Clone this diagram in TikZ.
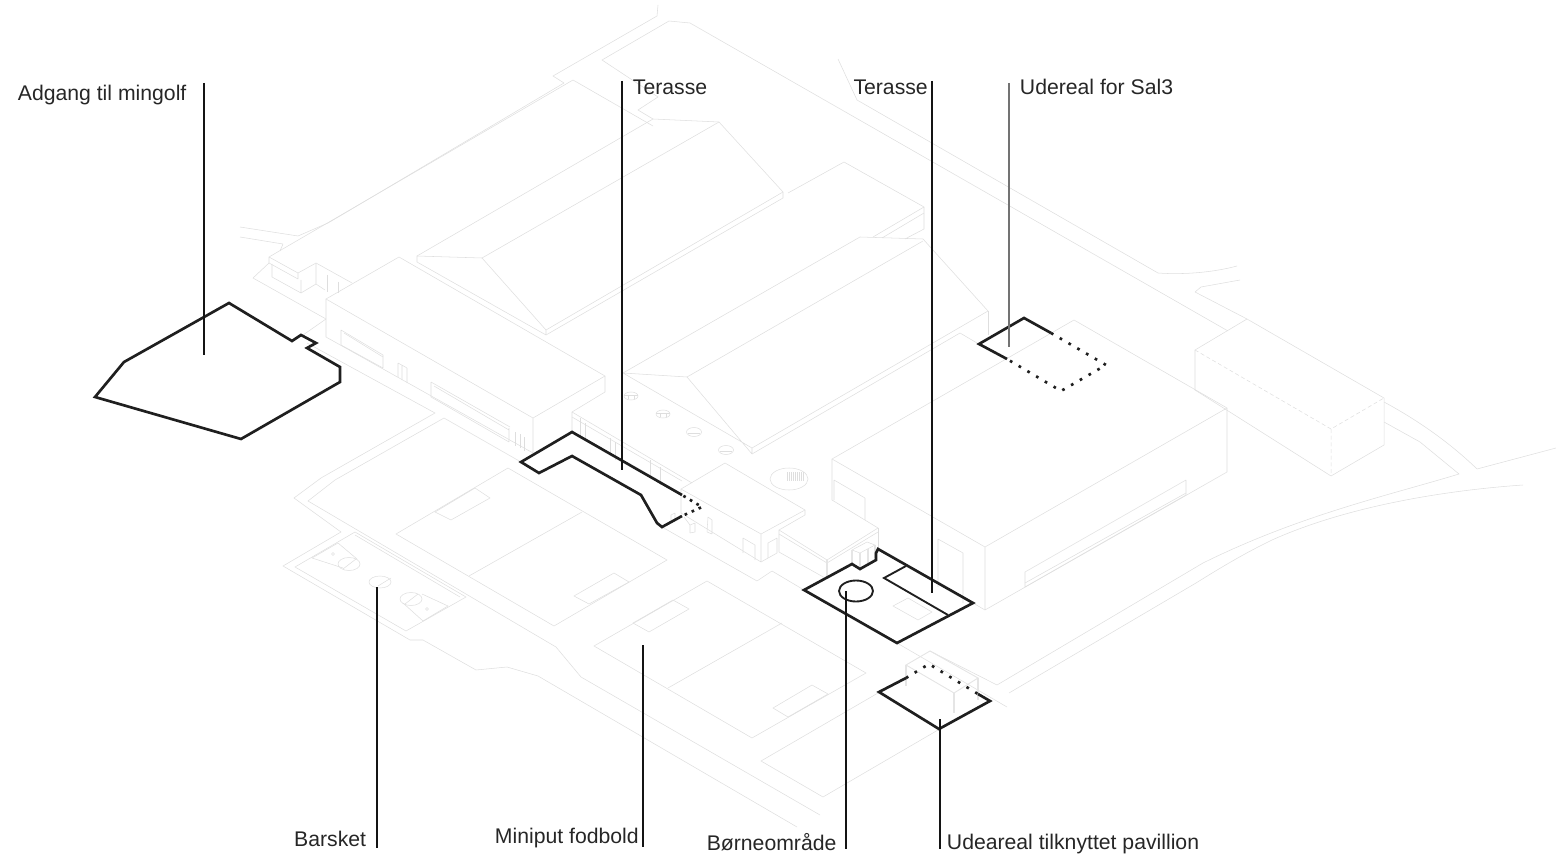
\documentclass[tikz,border=0pt]{standalone}
\usepackage{fontspec}
\setmainfont{Liberation Sans}
\usetikzlibrary{positioning}

\begin{document}
\begin{tikzpicture}[x=0.75pt,y=-0.75pt,node distance=8pt and 8pt]
    \tikzstyle{plan}=[draw=black!13,line width=0.4pt,line join=round]
    \tikzstyle{hidden}=[plan,dash pattern=on 3pt off 2pt]
    \tikzstyle{post}=[draw=black!10,line width=1.2pt]
    \tikzstyle{area}=[draw=black!88,line width=2pt,line join=miter]
    \tikzstyle{dots}=[draw=black!88,line width=2pt,dash pattern=on 2pt off 5.6pt]
    \tikzstyle{leader}=[draw=black!92,line width=1pt]
    \tikzstyle{tag}=[inner sep=0pt,font=\fontsize{15.9pt}{18pt}\selectfont,text=black!85]

    \useasboundingbox (0,0) rectangle (1556,859);

    % veje
    \draw[plan] (658,5) -- (657,16) -- (553,76) -- (564,83);
    \draw[plan] (653,119) -- (638,110) -- (658,97) -- (602,60) -- (669,21) -- (690,23) -- (1228,331);
    \draw[plan] (838,59) -- (857,100) -- (1158,273) .. controls (1185,275) and (1215,272) .. (1237,266);
    \draw[plan] (1240,280) -- (1201,287) -- (1195,292) -- (1247,319);
    \draw[plan] (240,227) -- (298,236) -- (328,223);
    \draw[plan] (240,237) -- (283,244) -- (280,251);
    \draw[plan] (269,263) -- (253,278) -- (326,319) -- (303,335);
    \draw[plan] (307,343) -- (435,413) -- (321,478) -- (294,498) -- (341,532) -- (283,566) -- (410,640) -- (423,640) -- (476,670) -- (507,667) -- (538,676) -- (797,827);
    \draw[plan] (521,462) -- (444,418) -- (335,480) -- (308,501) -- (556,647) -- (581,677) -- (820,815);
    \draw[plan] (662,527) -- (757,581) -- (772,571) -- (804,590);
    \draw[plan] (897,643) -- (1007,707);
    \draw[plan] (1384,402) .. controls (1410,416) and (1445,438) .. (1477,469) -- (1556,448);
    \draw[plan] (1384,422) -- (1420,442) -- (1459,474) .. controls (1390,495) and (1300,515) .. (1203,563) -- (997,685);
    \draw[plan] (1523,485) .. controls (1450,490) and (1350,505) .. (1272,540) .. controls (1245,553) and (1220,568) .. (1196,583) -- (1009,693);

    % tag og bygninger
    \draw[plan] (573,80) -- (269,257) -- (269,263) -- (298,279) -- (298,273) -- (269,257);
    \draw[plan] (298,273) -- (316,263) -- (352,283);
    \draw[plan] (564,83) -- (340,216) -- (328,223);
    \draw[plan] (573,80) -- (653,126);
    \draw[plan] (272,264) -- (272,277) -- (301,293) -- (301,280);
    \draw[plan] (301,293) -- (316,284) -- (325,290) (316,263) -- (316,284);
    \draw[plan] (327,275) -- (327,292) (338,282) -- (338,293);
    \draw[plan] (326,299) -- (399,257) -- (605,376) -- (533,418) -- cycle;
    \draw[plan] (326,299) -- (326,337) -- (533,453) -- (533,418);
    \draw[plan] (605,376) -- (605,392) -- (572,412) -- (572,432);
    \draw[plan] (341,330) -- (383,355) -- (383,368) -- (341,345) -- cycle;
    \draw[plan] (344,333) -- (383,357);
    \draw[plan] (398,363) -- (398,377) (402,365) -- (402,380) (407,368) -- (407,383) (398,363) -- (407,368);
    \draw[plan] (431,382) -- (510,427) (431,382) -- (431,397) -- (509,442) -- (509,428) (434,386) -- (509,430);
    \foreach \mulx/\muly in {515/432,520/434,524/437}{
        \draw[plan] (\mulx,\muly) -- (\mulx,\muly+14);
    }

    \draw[plan] (417,256) -- (482,258) -- (546,330) -- (546,335) -- (417,262) -- cycle;
    \draw[plan] (417,256) -- (653,119) -- (719,122) -- (783,192) -- (783,198) -- (546,335);
    \draw[plan] (482,258) -- (719,122) (546,330) -- (783,192) (788,193) -- (844,162) -- (924,207) -- (924,229) -- (905,239);
    \draw[plan] (924,207) -- (873,237) (924,213) -- (882,238);

    \draw[plan] (623,373) -- (687,377) -- (752,454) -- (752,448) -- (623,373);
    \draw[plan] (623,373) -- (860,237) -- (923,239) -- (988,311) -- (752,448);
    \draw[plan] (687,377) -- (923,241);
    \draw[plan] (752,454) -- (960,333) -- (977,343);
    \draw[plan] (988,311) -- (988,335);
    \foreach \skyx/\skyy in {631/396,663/414}{
        \draw[plan] (\skyx,\skyy) ellipse [x radius=7,y radius=4];
        \draw[plan] (\skyx-3,\skyy-1) -- (\skyx-3,\skyy+3) (\skyx+3,\skyy-1) -- (\skyx+3,\skyy+3) (\skyx-7,\skyy-1) -- (\skyx+7,\skyy-1);
    }
    \foreach \skyx/\skyy in {694/432,726/450}{
        \draw[plan] (\skyx,\skyy) ellipse [x radius=7.5,y radius=4.5];
        \draw[plan] (\skyx-6,\skyy+1) -- (\skyx+6,\skyy+1);
    }
    \draw[plan] (789,479) ellipse [x radius=19,y radius=11];
    \foreach \hatchx in {787,789,...,803}{
        \draw[plan] (\hatchx,472) -- (\hatchx,481);
    }

    \draw[plan] (572,412) -- (692,483) (572,417) -- (682,481);
    \foreach \mulx/\muly in {580/418,585/423,610/438,615/442,650/460,660/467}{
        \draw[plan] (\mulx,\muly) -- (\mulx,\muly+18);
    }
    \draw[plan] (681,489) -- (725,463) -- (805,510) -- (761,534) -- cycle;
    \draw[plan] (805,510) -- (805,515) -- (779,530) -- (779,552);
    \draw[plan] (761,534) -- (761,562) -- (681,513) -- (681,489);
    \draw[plan] (761,562) -- (777,553);
    \draw[plan] (708,517) -- (707,532) -- (712,534) -- (712,520) -- cycle;
    \draw[plan] (743,553) -- (743,538) -- (755,545) -- (755,560);
    \draw[plan] (768,558) -- (768,543) -- (777,538) -- (777,553);
    \draw[plan] (671,522) -- (671,515) -- (675,513) -- (675,522);
    \draw[plan] (690,533) -- (690,525) -- (695,523) -- (695,532) -- cycle;
    \draw[plan] (684,517) -- (690,525);
    \draw[plan] (779,530) -- (827,560) -- (878,528) -- (832,500);
    \draw[plan] (779,534) -- (827,563) -- (878,532);
    \draw[plan] (878,528) -- (878,550);
    \draw[plan] (779,552) -- (825,578);
    \draw[post] (827,560) -- (827,577);
    \draw[plan] (852,550) -- (867,542) -- (875,545) -- (860,553) -- cycle;
    \draw[post] (852,550) -- (852,564) (860,553) -- (860,568) (868,549) -- (868,563) (875,545) -- (875,558);

    \draw[plan] (832,459) -- (1074,320) -- (1227,408) -- (985,547) -- cycle;
    \draw[plan] (832,459) -- (832,500) (985,547) -- (985,610) -- (1227,472) -- (1227,408);
    \draw[plan] (973,603) -- (985,610);
    \draw[plan] (865,498) -- (834,480) -- (834,500) (865,498) -- (865,520);
    \draw[plan] (938,587) -- (938,539) -- (963,553) -- (963,603);
    \draw[plan] (1025,572) -- (1186,480) -- (1186,495) -- (1025,587) -- cycle;
    \draw[plan] (1025,583) -- (1186,493);

    \draw[plan] (1247,319) -- (1384,398) -- (1384,445) -- (1331,476) -- (1195,390) -- (1195,350) -- cycle;
    \draw[hidden] (1195,350) -- (1331,429) -- (1384,398) (1331,429) -- (1331,476);

    % boldbaner
    \draw[plan] (508,468) -- (667,560) -- (554,626) -- (396,534) -- cycle;
    \draw[plan] (582,512) -- (469,576);
    \draw[plan] (435,512) -- (475,488) -- (490,498) -- (451,520) -- cycle;
    \draw[plan] (574,596) -- (614,573) -- (629,582) -- (589,604) -- cycle;
    \draw[plan] (707,581) -- (866,673) -- (752,738) -- (594,646) -- cycle;
    \draw[plan] (782,623) -- (668,688);
    \draw[plan] (633,623) -- (673,600) -- (689,609) -- (649,632) -- cycle;
    \draw[plan] (773,708) -- (812,685) -- (828,694) -- (788,717) -- cycle;
    \draw[plan] (878,693) -- (761,761) -- (823,797) -- (938,730);
    \draw[plan] (893,606) -- (908,598) -- (932,612) -- (918,620) -- cycle;

    % barsket
    \draw[plan] (355,532) -- (466,597) -- (406,631) -- (295,567) -- cycle;
    \draw[plan] (355,535) -- (460,597);
    \draw[plan] (312,558) -- (338,543) -- (357,559) (312,558) -- (343,568);
    \draw[plan] (349,564) ellipse [x radius=11,y radius=6.5];
    \draw[plan] (343,569) -- (356,559);
    \draw[plan] (380,582) ellipse [x radius=11,y radius=6];
    \draw[plan] (378,586) -- (391,578);
    \draw[plan] (411,599) ellipse [x radius=11,y radius=6.5];
    \draw[plan] (405,604) -- (418,594);
    \draw[plan] (403,603) -- (423,621) -- (448,606) -- (422,594);
    \draw[plan] (333,554) circle (1.5) (427,609) circle (1.5);

    % pavillon
    \draw[plan] (930,651) -- (997,685);
    \draw[post] (906,665) -- (906,686) (978,678) -- (978,700) (954,693) -- (954,713);
    \draw[post,line width=0.7pt] (906,665) -- (930,651) -- (978,678) -- (954,693) -- cycle;

    % fremhaevede arealer
    \draw[area] (229,303) -- (124,362) -- (95,397) -- (241,439) -- (340,382) -- (340,367) -- (307,348) -- (316,343) -- (301,335) -- (292,341) -- cycle;
    \draw[area] (682,495) -- (572,432) -- (521,462) -- (539,473) -- (572,456) -- (641,495) -- (657,523) -- (662,527) -- (682,516);
    \draw[dots,dash pattern=on 2pt off 3.7pt,dash phase=4.5pt] (682,495) -- (702,507) -- (682,516);
    \draw[area] (804,590) -- (852,564) -- (860,569) -- (876,560) -- (876,553) -- (878,549) -- (973,603) -- (897,643) -- cycle;
    \draw[area,line width=1.4pt] (856,591) ellipse [x radius=17,y radius=10.5];
    \draw[area,line width=1.4pt] (906,566) -- (884,578) -- (948,615);
    \draw[area] (906,678) -- (879,692) -- (939,729) -- (990,701) -- (978,694);
    \draw[dots] (906,678) -- (929,664) -- (978,694);
    \draw[area] (1051,333) -- (1024,318) -- (979,344) -- (1007,359);
    \draw[dots] (1051,333) -- (1106,365) -- (1061,391) -- (1007,359);

    % henvisninger
    \coordinate (adgangTop) at (204,83);
    \coordinate (adgangEnd) at (204,355);
    \coordinate (terasseATop) at (622,81);
    \coordinate (terasseAEnd) at (622,470);
    \coordinate (terasseBTop) at (932,81);
    \coordinate (terasseBEnd) at (932,593);
    \coordinate (sal3Top) at (1009,83);
    \coordinate (sal3End) at (1009,347);
    \coordinate (barsketTop) at (377,587);
    \coordinate (barsketEnd) at (377,848);
    \coordinate (miniputTop) at (643,645);
    \coordinate (miniputEnd) at (643,847);
    \coordinate (boerneTop) at (846,591);
    \coordinate (boerneEnd) at (846,849);
    \coordinate (pavillionTop) at (940,719);
    \coordinate (pavillionEnd) at (940,849);

    \foreach \lead in {adgang,terasseA,terasseB,barsket,miniput,boerne,pavillion}{
        \draw[leader] (\lead Top) -- (\lead End);
    }
    \draw[leader,draw=black!55] (sal3Top) -- (sal3End);

    \node[tag] (adgang) [left=13pt of adgangTop,yshift=-8.7pt] {Adgang til mingolf};
    \node[tag] (terasseA) [right=8pt of terasseATop,yshift=-5pt] {Terasse};
    \node[tag] (terasseB) [left=3pt of terasseBTop,yshift=-5pt] {Terasse};
    \node[tag] (sal3) [right=8pt of sal3Top,yshift=-3pt] {Udereal for Sal3};
    \node[tag] (barsket) [left=8pt of barsketEnd,yshift=7pt] {Barsket};
    \node[tag] (miniput) [left=3pt of miniputEnd,yshift=7pt] {Miniput fodbold};
    \node[tag] (boerne) [left=7pt of boerneEnd,yshift=5pt] {Børneområde};
    \node[tag] (pavillion) [right=5pt of pavillionEnd,yshift=4pt] {Udeareal tilknyttet pavillion};
\end{tikzpicture}
\end{document}
